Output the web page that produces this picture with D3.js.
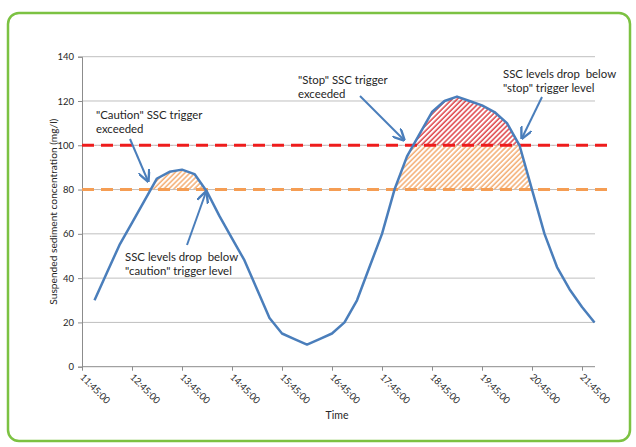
<!DOCTYPE html>
<html><head><meta charset="utf-8">
<script src="https://cdn.jsdelivr.net/npm/d3@7"></script>
<style>
html,body{margin:0;padding:0;background:#fff;}
svg{display:block;font-family:Lato, "Open Sans", sans-serif;}
</style></head>
<body>
<svg id="chart" width="636" height="447"></svg>
<script>
// ---- data ----
const times = ["12:00","12:15","12:30","12:45","13:00","13:15","13:30","13:45","14:00","14:15",
  "14:30","14:45","15:00","15:15","15:30","15:45","16:00","16:15","16:30","16:45",
  "17:00","17:15","17:30","17:45","18:00","18:15","18:30","18:45","19:00","19:15",
  "19:30","19:45","20:00","20:15","20:30","20:45","21:00","21:15","21:30","21:45","22:00"];
const ssc = [30,42.5,55,65,75,85,88,89,87,79,
  68,58,48,35,22,15,12.5,10,12.5,15,
  20,30,45,60,80,95,105,115,120,122,
  120,118,115,110,100,80,60,45,35,27,20];
const tickLabels = ["11:45:00","12:45:00","13:45:00","14:45:00","15:45:00","16:45:00",
  "17:45:00","18:45:00","19:45:00","20:45:00","21:45:00"];
const yTicks = [0,20,40,60,80,100,120,140];
const cautionLevel = 80;
const stopLevel = 100;
const annotations = [
  {lines:['"Caution" SSC trigger','exceeded'], x:96, y:119, from:[130,139], to:[148,181]},
  {lines:['SSC levels drop  below','"caution" trigger level'], x:125, y:261, from:[187,245], to:[206,192]},
  {lines:['"Stop" SSC trigger','exceeded'], x:298, y:84, from:[360,96], to:[404,140]},
  {lines:['SSC levels drop  below','"stop" trigger level'], x:503, y:78, from:[542,97], to:[522,138]}
];

// ---- layout ----
const svg = d3.select("#chart");
const parse = d3.timeParse("%H:%M");
const tickParse = d3.timeParse("%H:%M:%S");
const x = d3.scaleTime().domain([parse("11:45"), parse("22:00")]).range([82, 594.5]);
const y = d3.scaleLinear().domain([0,140]).range([366.7, 56.7]);
const plotRight = 595;
const pts = times.map((t,i)=>({t:parse(t), v:ssc[i]}));

// border
svg.append("rect").attr("x",8).attr("y",13).attr("width",622).attr("height",428)
  .attr("rx",11).attr("fill","#fff").attr("stroke","#7cc242").attr("stroke-width",2.5);

// patterns
const defs = svg.append("defs");
function hatch(id, color){
  const p = defs.append("pattern").attr("id",id).attr("patternUnits","userSpaceOnUse")
    .attr("width",3.6).attr("height",3.6).attr("patternTransform","rotate(45)");
  p.append("line").attr("x1",1).attr("y1",0).attr("x2",1).attr("y2",3.6)
    .attr("stroke",color).attr("stroke-width",1.3);
}
hatch("hOrange","#f2a05c");
hatch("hRed","#d9262c");
defs.append("clipPath").attr("id","cBand").append("rect")
  .attr("x",82).attr("width",plotRight-82).attr("y",y(stopLevel)).attr("height",y(cautionLevel)-y(stopLevel));
defs.append("clipPath").attr("id","cTop").append("rect")
  .attr("x",82).attr("width",plotRight-82).attr("y",y(140)).attr("height",y(stopLevel)-y(140));

// gridlines
svg.append("g").selectAll("line").data(yTicks.filter(d=>d>0)).join("line")
  .attr("x1",82).attr("x2",plotRight).attr("y1",d=>y(d)).attr("y2",d=>y(d))
  .attr("stroke","#bfbfbf").attr("stroke-width",1);

// hatched areas
svg.append("path").datum(pts).attr("clip-path","url(#cBand)")
  .attr("d", d3.area().x(d=>x(d.t)).y0(y(cautionLevel)).y1(d=>y(d.v)))
  .attr("fill","url(#hOrange)");
svg.append("path").datum(pts).attr("clip-path","url(#cTop)")
  .attr("d", d3.area().x(d=>x(d.t)).y0(y(stopLevel)).y1(d=>y(d.v)))
  .attr("fill","url(#hRed)");

// axes
const yAxis = svg.append("g").attr("transform","translate(82,0)")
  .call(d3.axisLeft(y).tickValues(yTicks).tickSize(4).tickPadding(4));
yAxis.select(".domain").attr("stroke","#8c8c8c");
yAxis.selectAll(".tick line").attr("stroke","#8c8c8c");
yAxis.selectAll("text").attr("font-size",9.5).attr("fill","#262626").style("font-family","Lato, sans-serif");

const xAxis = svg.append("g").attr("transform",`translate(0,${y(0)})`)
  .call(d3.axisBottom(x).tickValues(tickLabels.map(tickParse)).tickFormat(d3.timeFormat("%H:%M:%S")).tickSize(4).tickSizeOuter(0));
xAxis.select(".domain").attr("stroke","#8c8c8c").attr("d",`M82,0H${plotRight}`);
xAxis.selectAll(".tick line").attr("stroke","#8c8c8c");
xAxis.selectAll("text").attr("font-size",9.5).attr("fill","#262626")
  .attr("text-anchor","start").attr("dy",null).attr("y",null)
  .attr("transform","translate(-3,11) rotate(45)").style("font-family","Lato, sans-serif");

// trigger lines
svg.append("line").attr("x1",82).attr("x2",614).attr("y1",y(stopLevel)).attr("y2",y(stopLevel))
  .attr("stroke","#ee1c1c").attr("stroke-width",3).attr("stroke-dasharray","12,7");
svg.append("line").attr("x1",82).attr("x2",614).attr("y1",y(cautionLevel)).attr("y2",y(cautionLevel))
  .attr("stroke","#f59d53").attr("stroke-width",3).attr("stroke-dasharray","12,7");

// series line
svg.append("path").datum(pts).attr("fill","none").attr("stroke","#4a7ebb").attr("stroke-width",2.5)
  .attr("stroke-linejoin","round")
  .attr("d", d3.line().x(d=>x(d.t)).y(d=>y(d.v)));

// annotations with arrows
defs.append("marker").attr("id","arr").attr("viewBox","0 0 10 10").attr("refX",9).attr("refY",5)
  .attr("markerWidth",6).attr("markerHeight",6).attr("orient","auto")
  .append("path").attr("d","M0,0 L10,5 L0,10").attr("fill","none").attr("stroke","#4a7ebb").attr("stroke-width",2);
annotations.forEach(a=>{
  const t = svg.append("text").attr("x",a.x).attr("y",a.y).attr("font-size",11.4).attr("fill","#262626");
  a.lines.forEach((l,i)=>t.append("tspan").attr("x",a.x).attr("dy",i?14:0).text(l).attr("xml:space","preserve"));
  svg.append("line").attr("x1",a.from[0]).attr("y1",a.from[1]).attr("x2",a.to[0]).attr("y2",a.to[1])
    .attr("stroke","#4a7ebb").attr("stroke-width",2).attr("marker-end","url(#arr)");
});

// axis titles
svg.append("text").attr("transform",`translate(53,${(y(0)+y(140))/2}) rotate(-90)`)
  .attr("text-anchor","middle").attr("dy","0.35em").attr("font-size",10.2).attr("fill","#262626")
  .text("Suspended sediment concentration (mg/l)");
svg.append("text").attr("x",337).attr("y",419).attr("text-anchor","middle")
  .attr("font-size",10.5).attr("fill","#262626").text("Time");
</script>
</body></html>
